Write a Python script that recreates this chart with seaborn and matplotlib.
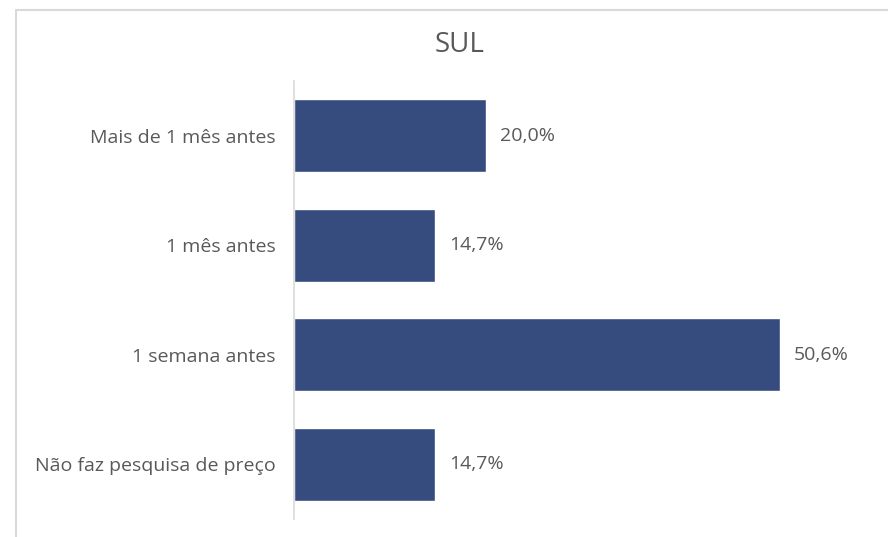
import matplotlib
matplotlib.use('Agg')
import matplotlib.pyplot as plt
import seaborn as sns
import pandas as pd

categorias = ["Mais de 1 mês antes", "1 mês antes", "1 semana antes", "Não faz pesquisa de preço"]
valores = [20.0, 14.7, 50.6, 14.7]
rotulos = ["20,0%", "14,7%", "50,6%", "14,7%"]

df = pd.DataFrame({"categoria": categorias, "valor": valores})

sns.set_theme(style="white")
plt.rcParams['font.family'] = ['Open Sans', 'DejaVu Sans']

W, H = 888, 537
fig = plt.figure(figsize=(W / 100, H / 100), dpi=100)
ax = fig.add_axes([294 / W, 1 - 519 / H, (870 - 294) / W, (519 - 81) / H])

sns.barplot(data=df, x="valor", y="categoria", color="#364C7E", width=0.67,
            saturation=1, ax=ax)

ax.set_xlim(0, 60)
ax.set_ylim(3.5, -0.5)
ax.set_xticks([])
ax.set_xlabel("")
ax.set_ylabel("")
for s in ["top", "right", "bottom"]:
    ax.spines[s].set_visible(False)
ax.spines["left"].set_color("#D9D9D9")
ax.spines["left"].set_linewidth(1.2)
ax.tick_params(axis="y", length=0, pad=13, labelsize=14, labelcolor="#595959")

for i, (v, r) in enumerate(zip(valores, rotulos)):
    ax.text(v + 1.45, i, r, va="center", ha="left", fontsize=14, color="#595959")

fig.text(460 / W, 1 - 45 / H, "SUL", ha="center", va="center", fontsize=20, color="#595959")

# moldura do gráfico
fig.add_artist(plt.Line2D([16 / W, 16 / W], [0, 1 - 10 / H], color="#D9D9D9", lw=1.5,
                          transform=fig.transFigure))
fig.add_artist(plt.Line2D([16 / W, 1], [1 - 10 / H, 1 - 10 / H], color="#D9D9D9", lw=1.5,
                          transform=fig.transFigure))

fig.savefig("out.png", dpi=100)
